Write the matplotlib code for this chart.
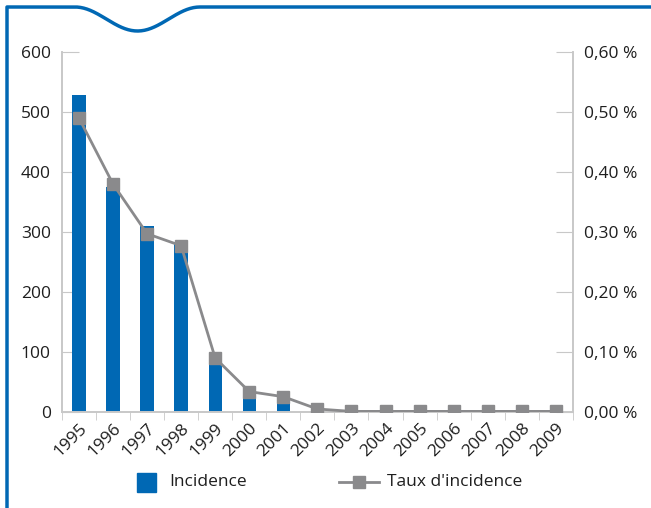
import numpy as np
import matplotlib
matplotlib.use("Agg")
import matplotlib.pyplot as plt
from matplotlib.ticker import FuncFormatter
from matplotlib.lines import Line2D
from matplotlib.patches import Rectangle

plt.rcParams['font.family'] = ['Open Sans', 'DejaVu Sans']
plt.rcParams['text.color'] = '#1e1e1e'
plt.rcParams['xtick.labelcolor'] = '#1e1e1e'
plt.rcParams['ytick.labelcolor'] = '#1e1e1e'

years = ['1995', '1996', '1997', '1998', '1999', '2000', '2001', '2002',
         '2003', '2004', '2005', '2006', '2007', '2008', '2009']
incidence = [528, 375, 310, 280, 98, 32, 20, 3, 0, 0, 0, 0, 0, 0, 0]
taux = [0.49, 0.38, 0.297, 0.277, 0.09, 0.034, 0.0255, 0.005,
        0.001, 0.001, 0.001, 0.001, 0.001, 0.001, 0.001]

blue = '#0068b4'
grey = '#8a8a8c'
axis_grey = '#c8c8c8'
fs = 12.5
W, H = 651, 508

fig = plt.figure(figsize=(W / 100, H / 100), dpi=100)
ax = fig.add_axes([0.095, 0.189, 0.785, 0.709])
ax2 = ax.twinx()

x = np.arange(len(years))
ax.bar(x, incidence, width=0.39, color=blue, zorder=2)
ax2.plot(x, taux, color=grey, lw=2, marker='s', markersize=9,
         markerfacecolor=grey, markeredgecolor=grey, zorder=3)

ax.set_xlim(-0.5, len(years) - 0.5)
ax.set_ylim(0, 600)
ax2.set_ylim(0, 0.6)
ax.set_yticks(np.arange(0, 601, 100))
ax2.set_yticks(np.arange(0, 0.61, 0.1))
ax2.yaxis.set_major_formatter(FuncFormatter(lambda v, p: ('%.2f %%' % v).replace('.', ',')))

# year labels centred under bars, tick marks between bars
ax.set_xticks(x)
ax.set_xticklabels(years, rotation=45, ha='right', rotation_mode='anchor', fontsize=fs)
ax.set_xticks(np.arange(-0.5, len(years), 1), minor=True)
ax.tick_params(axis='x', which='major', length=0, pad=6)
ax.tick_params(axis='x', which='minor', length=6, color=axis_grey, direction='out')
ax.tick_params(axis='y', length=12, color=axis_grey, direction='in', labelsize=fs, pad=8)
ax2.tick_params(axis='y', length=12, color=axis_grey, direction='in', labelsize=fs, pad=8)

for a in (ax, ax2):
    a.spines['top'].set_visible(False)
    for s in ('left', 'right', 'bottom'):
        a.spines[s].set_color(axis_grey)
        a.spines[s].set_linewidth(1.2)
ax.patch.set_visible(False)

# legend drawn by hand in figure pixels
def px(xp, yp):
    return xp / W, 1 - yp / H

leg_y = 482
fig.add_artist(Rectangle(px(137, 492), 19 / W, 19 / H, color=blue,
                         transform=fig.transFigure))
fig.text(*px(169, leg_y), 'Incidence', fontsize=fs, va='center', ha='left')
lx = np.array([339, 379])
fig.add_artist(Line2D(lx / W, 1 - np.array([leg_y, leg_y]) / H, color=grey, lw=2,
                      transform=fig.transFigure))
fig.add_artist(Line2D([358.5 / W], [1 - leg_y / H], color=grey, marker='s', markersize=8.5,
                      transform=fig.transFigure))
fig.text(*px(387, leg_y), "Taux d'incidence", fontsize=fs, va='center', ha='left')

# blue frame with a dip along the top edge
xs = np.linspace(0, W, 600)
ys = np.full_like(xs, 7.0)
m = (xs > 75) & (xs < 200)
ys[m] = 7 + 12 * (1 - np.cos(2 * np.pi * (xs[m] - 75) / 125))
fx = np.concatenate([[7, 7], xs[xs >= 7]])
fy = np.concatenate([[H, 7], ys[xs >= 7]])
fig.add_artist(Line2D(fx / W, 1 - fy / H, color=blue, lw=2.5,
                      transform=fig.transFigure, solid_joinstyle='round'))

fig.savefig('out.png', dpi=100)
